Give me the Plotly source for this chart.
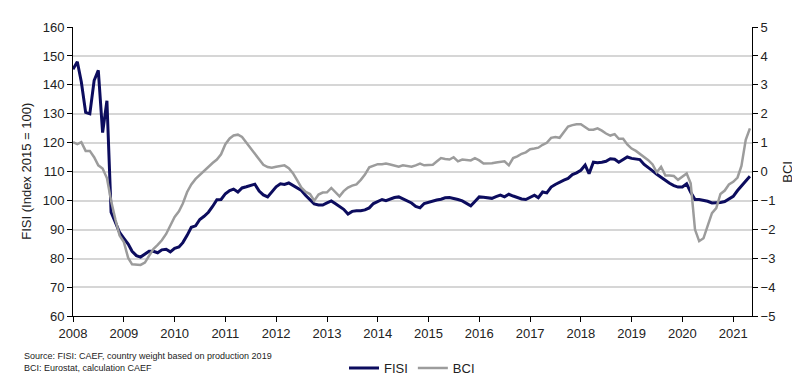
import pandas as pd
import plotly.graph_objects as go

months = pd.date_range("2008-01-01", "2021-05-01", freq="MS")

fisi = [
    # 2008
    145.4, 148.0, 141.0, 130.5, 130.0, 141.5, 145.0, 123.5, 134.5, 96.0, 92.5, 89.0,
    # 2009
    87.0, 85.0, 82.5, 81.0, 80.5, 81.5, 82.5, 82.5, 82.0, 83.0, 83.2, 82.3,
    # 2010
    83.5, 84.0, 85.5, 88.0, 90.8, 91.3, 93.5, 94.6, 96.0, 98.0, 100.3, 100.4,
    # 2011
    102.4, 103.5, 104.0, 103.0, 104.4, 104.8, 105.2, 105.7, 103.3, 102.0, 101.3, 103.0,
    # 2012
    104.8, 105.8, 105.6, 106.1, 105.3, 104.3, 103.5, 101.8, 100.2, 98.9, 98.5, 98.5,
    # 2013
    99.2, 99.9, 99.0, 98.0, 97.0, 95.4, 96.3, 96.5, 96.5, 96.8, 97.5, 99.0,
    # 2014
    99.8, 100.4, 100.0, 100.7, 101.1, 101.3, 100.6, 99.8, 99.2, 98.0, 97.5, 99.0,
    # 2015
    99.5, 100.0, 100.2, 100.5, 101.0, 101.1, 100.8, 100.4, 99.9, 99.0, 98.2, 99.7,
    # 2016
    101.3, 101.2, 101.0, 100.8, 101.4, 101.9, 101.3, 102.2, 101.6, 101.0, 100.6, 100.4,
    # 2017
    101.2, 101.9, 101.0, 103.0, 102.7, 104.7, 105.6, 106.5, 107.1, 107.7, 109.0, 109.6,
    # 2018
    110.5, 112.3, 109.3, 113.3, 113.1, 113.3, 113.6, 114.5, 114.3, 113.3, 114.2, 115.1,
    # 2019
    114.6, 114.3, 114.2, 112.5, 111.5, 110.3, 109.1, 108.0, 106.8, 106.0, 105.2, 104.7,
    # 2020
    104.7, 105.8, 102.9, 100.4, 100.4, 100.2, 99.8, 99.2, 99.2, 99.4, 99.7, 100.5,
    # 2021
    101.5, 103.5, 105.0, 106.8, 108.4,
]

bci = [
    # 2008
    1.02, 0.95, 1.02, 0.72, 0.72, 0.50, 0.22, 0.11, -0.22, -1.00, -1.65, -2.20,
    # 2009
    -2.43, -2.98, -3.20, -3.20, -3.22, -3.14, -2.92, -2.67, -2.53, -2.37, -2.15, -1.87,
    # 2010
    -1.56, -1.37, -1.10, -0.70, -0.44, -0.25, -0.11, 0.05, 0.17, 0.30, 0.42, 0.60,
    # 2011
    0.95, 1.15, 1.25, 1.28, 1.20, 1.00, 0.83, 0.60, 0.40, 0.24, 0.16, 0.14,
    # 2012
    0.17, 0.20, 0.22, 0.12, -0.05, -0.30, -0.55, -0.70, -0.77, -1.00, -0.79, -0.72,
    # 2013
    -0.71, -0.56, -0.70, -0.85, -0.67, -0.55, -0.48, -0.44, -0.28, -0.10, 0.15, 0.20,
    # 2014
    0.26, 0.26, 0.28, 0.25, 0.22, 0.17, 0.22, 0.20, 0.17, 0.22, 0.28, 0.22,
    # 2015
    0.22, 0.24, 0.35, 0.47, 0.44, 0.42, 0.50, 0.36, 0.42, 0.40, 0.39, 0.47,
    # 2016
    0.39, 0.28, 0.28, 0.29, 0.32, 0.34, 0.36, 0.22, 0.47, 0.53, 0.62, 0.67,
    # 2017
    0.78, 0.80, 0.83, 0.93, 1.00, 1.17, 1.20, 1.17, 1.39, 1.56, 1.61, 1.64,
    # 2018
    1.64, 1.55, 1.45, 1.45, 1.50, 1.42, 1.32, 1.25, 1.30, 1.14, 1.14, 0.94,
    # 2019
    0.80, 0.72, 0.62, 0.53, 0.40, 0.25, -0.02, 0.17, -0.13, -0.13, -0.15, -0.28,
    # 2020
    -0.17, -0.06, -0.40, -2.00, -2.40, -2.30, -1.87, -1.43, -1.26, -0.77, -0.65, -0.44,
    # 2021
    -0.35, -0.20, 0.20, 1.10, 1.50,
]

left_ticks = [60, 70, 80, 90, 100, 110, 120, 130, 140, 150, 160]
right_ticks = [-5, -4, -3, -2, -1, 0, 1, 2, 3, 4, 5]

FONT = "Arial, Liberation Sans, sans-serif"
NAVY = "#0c0c5e"
GRAY = "#9c9c9c"
TXT = "#222222"

fig = go.Figure()
fig.add_trace(go.Scatter(x=months, y=fisi, name="FISI", mode="lines",
                         line=dict(color=NAVY, width=3), yaxis="y"))
fig.add_trace(go.Scatter(x=months, y=bci, name="BCI", mode="lines",
                         line=dict(color=GRAY, width=2.5), yaxis="y2"))

PW, PH = 679, 302  # plot area size in px

fig.update_layout(
    width=800, height=377,
    margin=dict(l=65, r=56, t=16, b=59),
    paper_bgcolor="white", plot_bgcolor="white",
    font=dict(family=FONT, size=13, color=TXT),
    showlegend=True,
    legend=dict(orientation="h", xref="container", yref="container",
                x=0.505, y=0.045, xanchor="center", yanchor="middle",
                font=dict(size=13, color=TXT), itemwidth=30,
                tracegroupgap=0, bgcolor="rgba(0,0,0,0)"),
    xaxis=dict(
        type="date",
        range=["2008-01-01", "2021-05-16"],
        tickmode="linear", tick0="2008-01-01", dtick="M12",
        tickformat="%Y",
        showgrid=False, zeroline=False,
        showline=True, linecolor="black", linewidth=1,
        ticks="outside", ticklen=5, tickcolor="black",
        tickfont=dict(size=13),
    ),
    yaxis=dict(
        range=[60, 160], tickmode="array", tickvals=left_ticks,
        showgrid=True, gridcolor="#d6d6d6", gridwidth=1.5,
        zeroline=False,
        showline=True, linecolor="black", linewidth=1,
        ticks="outside", ticklen=5, tickcolor="black",
        tickfont=dict(size=13),
    ),
    yaxis2=dict(
        range=[-5, 5], tickmode="array", tickvals=right_ticks,
        overlaying="y", side="right",
        showgrid=False, zeroline=False,
        showline=True, linecolor="black", linewidth=1,
        ticks="outside", ticklen=5, tickcolor="black",
        tickfont=dict(size=13),
    ),
)

# axis titles
fig.add_annotation(text="FISI (Index 2015 = 100)", textangle=-90,
                   xref="paper", yref="paper", x=(19 - 65) / PW, y=0.5,
                   xanchor="center", yanchor="middle", showarrow=False,
                   font=dict(size=13, color=TXT))
fig.add_annotation(text="BCI", textangle=-90,
                   xref="paper", yref="paper", x=(780 - 65) / PW, y=0.5,
                   xanchor="center", yanchor="middle", showarrow=False,
                   font=dict(size=13, color=TXT))

fig.add_annotation(
    text="Source: FISI: CAEF, country weight based on production 2019<br>BCI: Eurostat, calculation CAEF",
    xref="paper", yref="paper", x=-51 / PW, y=-34 / PH, xanchor="left", yanchor="top",
    showarrow=False, align="left", font=dict(size=9, color=TXT),
)

fig.write_html("out.html")
